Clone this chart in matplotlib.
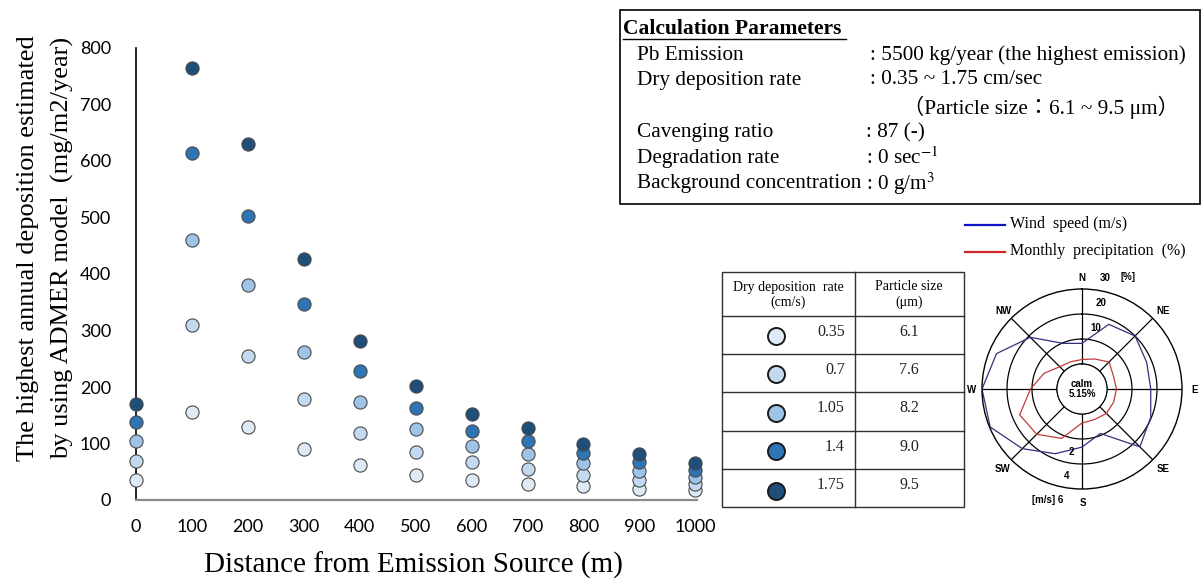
import numpy as np
import matplotlib
matplotlib.use("Agg")
import matplotlib.pyplot as plt
from matplotlib.lines import Line2D
from matplotlib.patches import Rectangle

# Highest annual Pb deposition (mg/m2/year) by distance, one series per dry deposition rate
distance = [0, 100, 200, 300, 400, 500, 600, 700, 800, 900, 1000]
dep_rate = ["0.35", "0.7", "1.05", "1.4", "1.75"]
particle_size = ["6.1", "7.6", "8.2", "9.0", "9.5"]
dep_035 = [35, 156, 130, 90, 62, 45, 36, 29, 25, 19, 18]
dep_070 = [69, 310, 255, 178, 118, 85, 67, 55, 45, 36, 28]
dep_105 = [104, 460, 380, 262, 173, 126, 95, 81, 65, 52, 40]
dep_140 = [138, 614, 503, 347, 229, 163, 123, 104, 83, 67, 53]
dep_175 = [170, 765, 630, 427, 281, 201, 152, 127, 100, 82, 65]
series_colors = ["#deebf7", "#c3d9ef", "#9dc3e6", "#2e75b6", "#1f4e79"]

# Wind rose: 16 directions starting at N, clockwise
directions = ["N", "NNE", "NE", "ENE", "E", "ESE", "SE", "SSE",
              "S", "SSW", "SW", "WSW", "W", "WNW", "NW", "NNW"]
wind_speed = [1.65, 3.6, 4.0, 3.6, 3.5, 3.95, 4.55, 1.85,
              2.65, 3.6, 4.75, 5.95, 6.0, 5.4, 3.85, 1.95]
precip_pct = [1.8, 3.0, 5.3, 3.6, 3.8, 3.7, 3.8, 3.2,
              3.6, 11.4, 15.6, 17.0, 10.6, 6.4, 2.6, 1.8]

W, H = 1202, 584
plt.rcParams["mathtext.fontset"] = "stix"
SERIF = "Liberation Serif"
fig = plt.figure(figsize=(W / 100, H / 100), dpi=100)


def px(x, y):
    return x / W, 1 - y / H


def px_axes(x0, y0, x1, y1, **kw):
    return fig.add_axes([x0 / W, 1 - y1 / H, (x1 - x0) / W, (y1 - y0) / H], **kw)


# ---- scatter of deposition vs distance ----
ax = px_axes(136, 48, 697, 500)
all_series = [dep_035, dep_070, dep_105, dep_140, dep_175]
for i, (vals, col) in enumerate(zip(all_series, series_colors)):
    ax.scatter(distance, vals, s=90, color=col, edgecolors="#4a4a4a",
               linewidths=0.8, zorder=3 + i, clip_on=False)
ax.set_xlim(0, 1003)
ax.set_ylim(0, 800)
ax.set_xticks(distance)
ax.set_yticks(range(0, 801, 100))
ax.tick_params(length=0, labelsize=13)
ax.tick_params(axis="y", pad=18)
ax.tick_params(axis="x", pad=14)
for lab in ax.get_xticklabels() + ax.get_yticklabels():
    lab.set_family("Lato")
ax.spines["top"].set_visible(False)
ax.spines["right"].set_visible(False)
ax.spines["left"].set_color("black")
ax.spines["left"].set_linewidth(1.2)
ax.spines["bottom"].set_color("#8a8a8a")
ax.spines["bottom"].set_linewidth(1.6)

fig.text(*px(28, 248), "The highest annual deposition estimated", rotation=90,
         ha="center", va="center", fontsize=19, family=SERIF)
fig.text(*px(62, 248), "by using ADMER model  (mg/m2/year)", rotation=90,
         ha="center", va="center", fontsize=19, family=SERIF)
fig.text(*px(413, 565), "Distance from Emission Source (m)", ha="center",
         va="center", fontsize=21, family=SERIF)

# ---- calculation parameter box ----
fig.patches.append(Rectangle(px(620, 204), 580 / W, 194 / H, fill=False,
                             edgecolor="black", linewidth=1.2,
                             transform=fig.transFigure, figure=fig))
fig.text(*px(623, 29), "Calculation Parameters", ha="left", va="center",
         fontsize=15.5, fontweight="bold", family=SERIF)
fig.lines.append(Line2D([623 / W, 846 / W], [1 - 39 / H, 1 - 39 / H],
                        color="black", linewidth=1, transform=fig.transFigure))
param_names = ["Pb Emission", "Dry deposition rate", "", "Cavenging ratio",
               "Degradation rate", "Background concentration"]
param_values = [": 5500 kg/year (the highest emission)", ": 0.35 ~ 1.75 cm/sec",
                "（Particle size：6.1 ~ 9.5 μm）", ": 87 (-)",
                ": 0 sec$^{-1}$", ": 0 g/m$^{3}$"]
value_x = [870, 870, 903, 866, 866, 866]
row_y = [55, 80, 107, 133, 158, 184]
for name, val, vx, y in zip(param_names, param_values, value_x, row_y):
    fig.text(*px(637, y), name, ha="left", va="center", fontsize=15.3,
             family=SERIF)
    fig.text(*px(vx, y), val, ha="left", va="center", fontsize=15.3,
             family=[SERIF, "Noto Sans CJK JP"])

# ---- legend table for the deposition series ----
tx0, tx1, tcol = 722, 964, 855
ty0, thead, ty1 = 272, 316, 507
row_h = (ty1 - thead) / 5
tab = px_axes(0, 0, W, H)
tab.set_xlim(0, W)
tab.set_ylim(H, 0)
tab.axis("off")
tab.add_patch(Rectangle((tx0, ty0), tx1 - tx0, ty1 - ty0, fill=False,
                        edgecolor="#303030", linewidth=1))
tab.plot([tcol, tcol], [ty0, ty1], color="#303030", linewidth=1)
for k in range(5):
    yl = thead + k * row_h
    tab.plot([tx0, tx1], [yl, yl], color="#303030", linewidth=1)
tab.text(788, 287, "Dry deposition  rate", ha="center", va="center",
         fontsize=10, family=SERIF)
tab.text(788, 302, "(cm/s)", ha="center", va="center", fontsize=10,
         family=SERIF)
tab.text(909, 287, "Particle size", ha="center", va="center", fontsize=10,
         family=SERIF)
tab.text(909, 302, "(μm)", ha="center", va="center", fontsize=10,
         family=SERIF)
for k, (rate, size, col) in enumerate(zip(dep_rate, particle_size, series_colors)):
    yc = thead + (k + 0.5) * row_h
    tab.scatter([776], [yc + (3 if k == 4 else 1)], s=150, color=col,
                edgecolors="#1a1a1a", linewidths=1.4, zorder=3)
    tab.text(845, yc - 3, rate, ha="right", va="center", fontsize=11.5,
             family=SERIF, color="#222222")
    tab.text(909, yc - 3, size, ha="center", va="center", fontsize=11.5,
             family=SERIF, color="#222222")

# ---- wind rose: wind speed (m/s) and monthly precipitation (%) ----
rose = px_axes(982, 289, 1182, 489, projection="polar")
rose.set_theta_zero_location("N")
rose.set_theta_direction(-1)
rose.set_rlim(0, 30)
rose.set_rorigin(-10)
rose.grid(False)
rose.set_xticks([])
rose.set_yticks([])
rose.spines["polar"].set_linewidth(1.0)
theta_ring = np.linspace(0, 2 * np.pi, 361)
for r in [0, 10, 20]:
    rose.plot(theta_ring, np.full_like(theta_ring, r), color="black",
              linewidth=0.9)
for ang in np.arange(0, 360, 45):
    rose.plot([np.radians(ang)] * 2, [0, 30], color="black", linewidth=0.9)

theta16 = np.radians(np.arange(16) * 22.5)
closed = np.append(theta16, theta16[0])
speed_r = np.array(wind_speed) * 5  # 2 m/s per ring, same rings as 10 %
rose.plot(closed, np.append(speed_r, speed_r[0]), color="#30307f",
          linewidth=0.9)
rose.plot(closed, np.append(precip_pct, precip_pct[0]), color="#c23b3b",
          linewidth=0.9)

rose_labels = [("N", 1082, 278), ("30", 1105, 278), ("[%]", 1128, 277),
               ("20", 1101, 303), ("10", 1096, 328), ("NW", 1004, 311),
               ("NE", 1163, 311), ("W", 972, 390), ("E", 1195, 390),
               ("SW", 1003, 469), ("SE", 1163, 469), ("2", 1071, 452),
               ("4", 1067, 476), ("[m/s] 6", 1048, 500), ("S", 1083, 503),
               ("calm", 1082, 384), ("5.15%", 1082, 394)]
for txt, x, y in rose_labels:
    fig.text(*px(x, y), txt, ha="center", va="center", fontsize=7,
             fontweight="bold", family="Liberation Sans")

# rose legend
fig.lines.append(Line2D([965 / W, 1005 / W], [1 - 225 / H] * 2, color="#1010c8",
                        linewidth=1.6, transform=fig.transFigure))
fig.lines.append(Line2D([965 / W, 1005 / W], [1 - 252 / H] * 2, color="#d02828",
                        linewidth=1.6, transform=fig.transFigure))
fig.text(*px(1010, 224), "Wind  speed (m/s)", ha="left", va="center",
         fontsize=11.5, family=SERIF)
fig.text(*px(1010, 251), "Monthly  precipitation  (%)", ha="left", va="center",
         fontsize=11.5, family=SERIF)

fig.savefig("out.png", dpi=100)
